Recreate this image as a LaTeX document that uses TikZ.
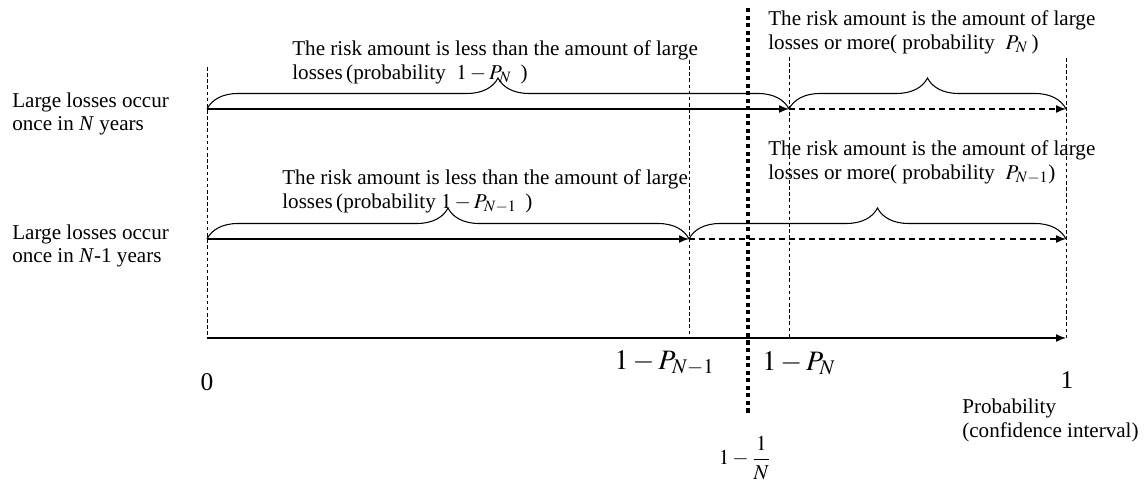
\documentclass[tikz,border=0pt]{standalone}
\usepackage{mathptmx}
\usepackage{fontspec}
\setmainfont{Liberation Serif}
\usetikzlibrary{arrows.meta, decorations.pathreplacing}

\begin{document}
\begin{tikzpicture}[
  every node/.style={font=\fontsize{12}{13.6}\selectfont, inner sep=0pt},
  rowtext/.style={align=left, anchor=west},
  big/.style={font=\fontsize{16}{18}\selectfont},
  digit/.style={font=\fontsize{14.5}{16}\selectfont},
  arrow/.style={-{Latex[length=2mm,width=1.6mm]}, line width=0.8pt},
  dasharrow/.style={arrow, dash pattern=on 3.4pt off 2.3pt},
  guide/.style={line width=0.4pt, dash pattern=on 2pt off 1.5pt},
  cutline/.style={line width=2.3pt, dash pattern=on 2.3pt off 2pt},
  bracket/.style={decorate, decoration={brace, amplitude=0.62cm}, line width=0.6pt}
]
  \useasboundingbox (-4.14,-2.92) rectangle (18.8,6.76);

  % Axis points
  \coordinate (z0) at (0,0);
  \coordinate (zb) at (9.64,0);
  \coordinate (za) at (11.64,0);
  \coordinate (z1) at (17.18,0);

  % Row points
  \coordinate (s1) at (0,4.58);
  \coordinate (m1) at (11.64,4.58);
  \coordinate (e1) at (17.18,4.58);
  \coordinate (s2) at (0,1.98);
  \coordinate (m2) at (9.64,1.98);
  \coordinate (e2) at (17.18,1.98);

  % Guide tops
  \coordinate (g0) at (0,5.42);
  \coordinate (gb) at (9.64,5.56);
  \coordinate (ga) at (11.64,5.62);
  \coordinate (g1) at (17.18,5.6);
  \coordinate (ct) at (10.82,6.6);
  \coordinate (cb) at (10.82,-1.54);

  % Row labels
  \node[rowtext] (row1) at (-3.9,4.48) {Large losses occur\\once in \textit{N} years};
  \node[rowtext] (row2) at (-3.9,1.84) {Large losses occur\\once in \textit{N}-1 years};

  % Brace texts
  \node[rowtext] (less1) at (1.7,5.52) {The risk amount is less than the amount of large\\losses\,(probability\ \ {\large$1-P_N$}\,\ )};
  \node[rowtext] (more1) at (11.22,6.12) {The risk amount is the amount of large\\losses or more(\ probability\ \ {\large$P_N$}\,)};
  \node[rowtext] (less2) at (1.5,2.94) {The risk amount is less than the amount of large\\losses\,(probability\ {\large$1-P_{N-1}$}\,\ )};
  \node[rowtext] (more2) at (11.22,3.52) {The risk amount is the amount of large\\losses or more(\ probability\ \ {\large$P_{N-1}$})};

  % Axis labels
  \node[digit] (zero) at (0,-0.88) {0};
  \node[digit] (one) at (17.2,-0.84) {1};
  \node[big, anchor=east] (qb) at (10.16,-0.5) {$1-P_{N-1}$};
  \node[big, anchor=west] (qa) at (11.1,-0.5) {$1-P_N$};
  \node (frac) at (10.76,-2.4) {$1-\displaystyle\frac{1}{N}$};
  \node[rowtext] (prob) at (15.1,-1.64) {Probability\\(confidence interval)};

  % Guides
  \draw[guide] (g0) -- (z0);
  \draw[guide] (gb) -- (zb);
  \draw[guide] (ga) -- (za);
  \draw[guide] (g1) -- (z1);
  \draw[cutline] (ct) -- (cb);

  % Arrows
  \draw[arrow] (s1) -- (m1);
  \draw[dasharrow] (m1) -- (e1);
  \draw[arrow] (s2) -- (m2);
  \draw[dasharrow] (m2) -- (e2);
  \draw[arrow] (z0) -- (z1);

  % Braces
  \draw[bracket] (s1) -- (m1);
  \draw[bracket] (m1) -- (e1);
  \draw[bracket] (s2) -- (m2);
  \draw[bracket] (m2) -- (e2);
\end{tikzpicture}
\end{document}
